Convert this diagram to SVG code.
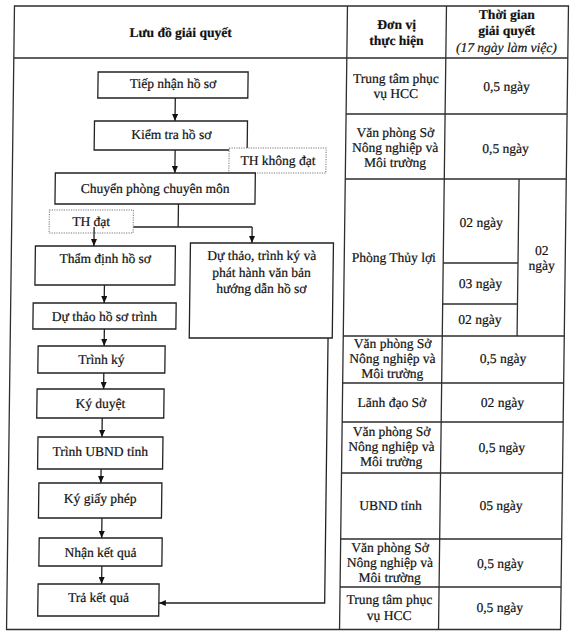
<svg xmlns="http://www.w3.org/2000/svg" width="576" height="642" viewBox="0 0 576 642">
<style>
text{font-family:"Liberation Serif","Times New Roman",serif;font-size:13.5px;fill:#111;stroke:#111;stroke-width:0.2;text-anchor:middle}
.b{font-weight:bold}
.i{font-style:italic}
.tl{fill:none;stroke:#2e2e2e;stroke-width:1.3}
.box{fill:#fff;stroke:#222;stroke-width:1.3}
.dot{fill:#fff;stroke:#777;stroke-width:1;stroke-dasharray:1.2 1.2}
.c{fill:none;stroke:#222;stroke-width:1.3}
</style>
<defs>
<marker id="ah" markerUnits="userSpaceOnUse" markerWidth="7" markerHeight="6" refX="7" refY="3" orient="auto">
<path d="M0,0 L7,3 L0,6 z" fill="#111"/>
</marker>
</defs>
<rect width="576" height="642" fill="#fff"/>
<g transform="translate(4.05,0) skewX(-0.73)">
<g id="table">
<rect class="tl" x="10.5" y="6" width="554" height="623.5"/>
<path class="tl" d="M10.5,58 H564.5 M343.5,6 V629.5 M442.5,6 V629.5 M343.5,114 H564.5 M343.5,179 H564.5 M343.5,336 H564.5 M343.5,383 H564.5 M343.5,422 H564.5 M343.5,473 H564.5 M343.5,539 H564.5 M343.5,587 H564.5 M442.5,263 H517.3 M442.5,304 H517.3 M517.3,179 V336"/>
<text class="b" x="177" y="37">Lưu đồ giải quyết</text>
<text class="b" x="393" y="29">Đơn vị</text>
<text class="b" x="393" y="45">thực hiện</text>
<text class="b" x="503" y="19">Thời gian</text>
<text class="b" x="503" y="35">giải quyết</text>
<text class="i" x="503" y="52">(17 ngày làm việc)</text>
<text x="393" y="83">Trung tâm phục</text>
<text x="393" y="98">vụ HCC</text>
<text x="503.5" y="91">0,5 ngày</text>
<text x="393" y="137">Văn phòng Sở</text>
<text x="393" y="152">Nông nghiệp và</text>
<text x="393" y="167">Môi trường</text>
<text x="503.5" y="153">0,5 ngày</text>
<text x="393" y="262">Phòng Thủy lợi</text>
<text x="480" y="227">02 ngày</text>
<text x="480" y="288">03 ngày</text>
<text x="480" y="324">02 ngày</text>
<text x="541" y="255">02</text>
<text x="541" y="270">ngày</text>
<text x="393" y="348">Văn phòng Sở</text>
<text x="393" y="363">Nông nghiệp và</text>
<text x="393" y="378">Môi trường</text>
<text x="503.5" y="363">0,5 ngày</text>
<text x="393" y="407">Lãnh đạo Sở</text>
<text x="503.5" y="407">02 ngày</text>
<text x="393" y="436">Văn phòng Sở</text>
<text x="393" y="451">Nông nghiệp và</text>
<text x="393" y="466">Môi trường</text>
<text x="503.5" y="452">0,5 ngày</text>
<text x="393" y="510">UBND tỉnh</text>
<text x="503.5" y="510">05 ngày</text>
<text x="393" y="552">Văn phòng Sở</text>
<text x="393" y="567">Nông nghiệp và</text>
<text x="393" y="582">Môi trường</text>
<text x="503.5" y="568">0,5 ngày</text>
<text x="393" y="604">Trung tâm phục</text>
<text x="393" y="620">vụ HCC</text>
<text x="503.5" y="612">0,5 ngày</text>
</g>
<g id="connectors">
<path class="c" d="M172.5,98 V121" marker-end="url(#ah)"/>
<path class="c" d="M173,150 V173" marker-end="url(#ah)"/>
<path class="c" d="M177,204 V227 M132,227 H251"/>
<path class="c" d="M251,227 V243" marker-end="url(#ah)"/>
<path class="c" d="M104,285 V303" marker-end="url(#ah)"/>
<path class="c" d="M104.5,329 V346" marker-end="url(#ah)"/>
<path class="c" d="M104.5,373 V389" marker-end="url(#ah)"/>
<path class="c" d="M103.5,418 V437" marker-end="url(#ah)"/>
<path class="c" d="M103,469 V483" marker-end="url(#ah)"/>
<path class="c" d="M104.5,518 V538" marker-end="url(#ah)"/>
<path class="c" d="M105,566 V584" marker-end="url(#ah)"/>
<path class="c" d="M328.3,338 V603 H162.5" marker-end="url(#ah)"/>
</g>
<g id="n-tiep-nhan"><rect class="box" x="95" y="72" width="150" height="26"/><text x="170" y="88">Tiếp nhận hồ sơ</text></g>
<g id="n-kiem-tra"><rect class="box" x="92" y="121" width="153" height="29"/><text x="169" y="139.5">Kiểm tra hồ sơ</text></g>
<g id="n-th-khong-dat"><rect class="dot" x="227" y="148" width="97" height="25"/><text x="276" y="165">TH không đạt</text></g>
<g id="n-chuyen-phong"><rect class="box" x="53.5" y="173" width="200" height="31"/><text x="153.5" y="193">Chuyển phòng chuyên môn</text></g>
<g id="n-th-dat"><rect class="dot" x="48" y="210" width="84" height="23"/><text x="90" y="226">TH đạt</text></g>
<g id="n-tham-dinh"><rect class="box" x="34.5" y="246" width="140" height="39"/><text x="104.5" y="263">Thẩm định hồ sơ</text></g>
<g id="n-du-thao-huong-dan"><rect class="box" x="189.5" y="243" width="143" height="95"/><text x="261" y="260">Dự thảo, trình ký và</text><text x="261" y="277">phát hành văn bản</text><text x="261" y="293">hướng dẫn hồ sơ</text></g>
<g id="n-du-thao-trinh"><rect class="box" x="33" y="303" width="143" height="26"/><text x="104.5" y="321">Dự thảo hồ sơ trình</text></g>
<g id="n-trinh-ky"><rect class="box" x="38.5" y="346" width="127" height="27"/><text x="102" y="364">Trình ký</text></g>
<g id="n-ky-duyet"><rect class="box" x="38" y="389" width="127" height="29"/><text x="101.5" y="408">Ký duyệt</text></g>
<g id="n-trinh-ubnd"><rect class="box" x="39.5" y="437" width="125" height="32"/><text x="102" y="456">Trình UBND tỉnh</text></g>
<g id="n-ky-giay-phep"><rect class="box" x="41" y="483" width="123" height="35"/><text x="102.5" y="503">Ký giấy phép</text></g>
<g id="n-nhan-ket-qua"><rect class="box" x="42" y="538" width="123" height="28"/><text x="103.5" y="557">Nhận kết quả</text></g>
<g id="n-tra-ket-qua"><rect class="box" x="41.5" y="584" width="121" height="32"/><text x="102" y="602">Trả kết quả</text></g>
<path class="c" d="M93,227 V246" marker-end="url(#ah)"/>
</g>
</svg>
